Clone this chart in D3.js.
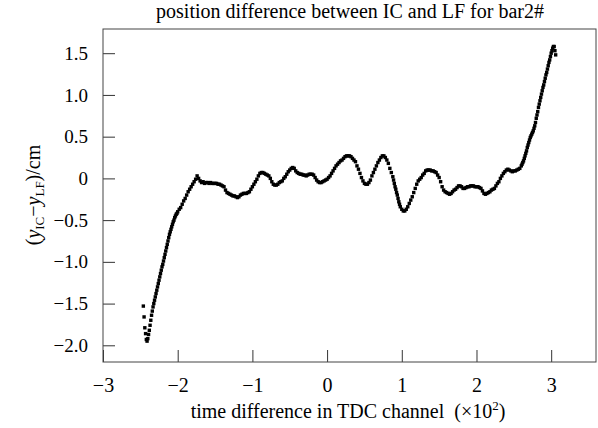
<!DOCTYPE html>
<html><head><meta charset="utf-8">
<script src="https://cdn.jsdelivr.net/npm/d3@7"></script>
<style>
body{margin:0;background:#fff;}
text{font-family:"Liberation Serif","Times New Roman",serif;fill:#000;}
</style></head>
<body><svg id="chart" width="598" height="428"></svg>
<script>
// time difference (×10² TDC channels)
const xValues = [
-2.46,-2.45,-2.44,-2.43,-2.42,-2.41,-2.40,-2.39,-2.38,-2.37,-2.36,-2.35,-2.34,-2.33,-2.32,-2.31,-2.30,-2.29,-2.28,-2.27,
-2.26,-2.25,-2.24,-2.23,-2.22,-2.21,-2.20,-2.19,-2.18,-2.17,-2.16,-2.15,-2.14,-2.13,-2.12,-2.11,-2.10,-2.09,-2.08,-2.07,
-2.06,-2.05,-2.04,-2.03,-2.02,-2.01,-2.00,
-1.98,-1.96,-1.94,-1.92,-1.90,-1.88,-1.86,-1.84,-1.82,-1.80,-1.78,-1.76,-1.74,-1.72,-1.70,-1.68,-1.66,-1.64,-1.62,-1.60,
-1.58,-1.56,-1.54,-1.52,-1.50,-1.48,-1.46,-1.44,-1.42,-1.40,-1.38,-1.36,-1.34,-1.32,-1.30,-1.28,-1.26,-1.24,-1.22,-1.20,
-1.18,-1.16,-1.14,-1.12,-1.10,-1.08,-1.06,-1.04,-1.02,-1.00,-0.98,-0.96,-0.94,-0.92,-0.90,-0.88,-0.86,-0.84,-0.82,-0.80,
-0.78,-0.76,-0.74,-0.72,-0.70,-0.68,-0.66,-0.64,-0.62,-0.60,-0.58,-0.56,-0.54,-0.52,-0.50,-0.48,-0.46,-0.44,-0.42,-0.40,
-0.38,-0.36,-0.34,-0.32,-0.30,-0.28,-0.26,-0.24,-0.22,-0.20,-0.18,-0.16,-0.14,-0.12,-0.10,-0.08,-0.06,-0.04,-0.02,0.00,
0.02,0.04,0.06,0.08,0.10,0.12,0.14,0.16,0.18,0.20,0.22,0.24,0.26,0.28,0.30,0.32,0.34,0.36,0.38,0.40,
0.42,0.44,0.46,0.48,0.50,0.52,0.54,0.56,0.58,0.60,0.62,0.64,0.66,0.68,0.70,0.72,0.74,0.76,0.78,0.80,
0.82,0.84,0.86,0.88,0.89,0.90,0.91,0.92,0.93,0.94,0.95,0.96,0.97,0.98,1.00,1.02,1.04,1.06,1.08,1.10,
1.12,1.14,1.16,1.18,1.20,1.22,1.24,1.26,1.28,1.30,1.32,1.34,1.36,1.38,1.40,1.42,1.44,1.46,1.48,1.50,
1.52,1.54,1.56,1.58,1.60,1.62,1.64,1.66,1.68,1.70,1.72,1.74,1.76,1.78,1.80,1.82,1.84,1.86,1.88,1.90,
1.92,1.94,1.96,1.98,2.00,2.02,2.04,2.06,2.08,2.10,2.12,2.14,2.16,2.18,2.20,2.22,2.24,2.26,2.28,2.30,
2.32,2.34,2.36,2.38,2.40,2.42,2.44,2.46,2.48,2.50,2.52,2.54,2.56,2.58,2.60,
2.61,2.62,2.63,2.64,2.65,2.66,2.67,2.68,2.69,2.70,2.71,2.72,2.73,2.74,2.75,2.76,2.77,2.78,2.79,2.80,
2.81,2.82,2.83,2.84,2.85,2.86,2.87,2.88,2.89,2.90,2.91,2.92,2.93,2.94,2.95,2.96,2.97,2.98,2.99,3.00,
3.01,3.02,3.03,3.04,3.05,3.06
];
// position difference y_IC - y_LF (cm)
const yValues = [
-1.53,-1.66,-1.79,-1.86,-1.93,-1.95,-1.92,-1.87,-1.82,-1.76,-1.70,-1.64,-1.59,-1.54,-1.50,-1.46,-1.42,-1.38,-1.34,-1.30,
-1.26,-1.22,-1.18,-1.14,-1.10,-1.06,-1.03,-0.99,-0.95,-0.91,-0.87,-0.83,-0.79,-0.75,-0.71,-0.67,-0.64,-0.61,-0.58,-0.55,
-0.52,-0.50,-0.47,-0.45,-0.43,-0.42,-0.40,
-0.37,-0.35,-0.31,-0.27,-0.24,-0.20,-0.16,-0.13,-0.10,-0.07,-0.04,-0.01,0.03,0.00,-0.03,-0.05,-0.04,-0.06,-0.05,-0.05,
-0.06,-0.05,-0.06,-0.06,-0.06,-0.06,-0.07,-0.07,-0.08,-0.09,-0.10,-0.14,-0.17,-0.18,-0.19,-0.20,-0.21,-0.21,-0.22,-0.23,
-0.22,-0.20,-0.19,-0.18,-0.18,-0.18,-0.17,-0.16,-0.13,-0.10,-0.07,-0.04,-0.01,0.03,0.06,0.07,0.07,0.06,0.05,0.04,
0.03,0.00,-0.04,-0.07,-0.08,-0.08,-0.07,-0.05,-0.04,-0.03,0.00,0.02,0.05,0.08,0.10,0.12,0.13,0.12,0.09,0.07,
0.06,0.05,0.05,0.04,0.04,0.03,0.04,0.05,0.05,0.05,0.04,0.01,-0.02,-0.04,-0.05,-0.05,-0.04,-0.03,-0.02,-0.01,
0.01,0.03,0.06,0.09,0.12,0.15,0.17,0.19,0.21,0.22,0.24,0.26,0.27,0.27,0.27,0.26,0.24,0.22,0.20,0.15,
0.11,0.06,0.01,-0.03,-0.06,-0.07,-0.07,-0.05,-0.02,0.03,0.07,0.11,0.15,0.19,0.22,0.25,0.27,0.27,0.25,0.22,
0.18,0.12,0.07,0.02,-0.02,-0.06,-0.10,-0.13,-0.17,-0.20,-0.24,-0.28,-0.31,-0.34,-0.37,-0.39,-0.39,-0.37,-0.34,-0.30,
-0.26,-0.22,-0.17,-0.12,-0.07,-0.03,-0.01,0.01,0.04,0.06,0.09,0.10,0.10,0.10,0.09,0.09,0.08,0.07,0.04,0.01,
-0.04,-0.10,-0.14,-0.16,-0.17,-0.18,-0.19,-0.18,-0.16,-0.14,-0.13,-0.11,-0.09,-0.09,-0.10,-0.12,-0.12,-0.11,-0.10,-0.10,
-0.09,-0.09,-0.09,-0.10,-0.10,-0.10,-0.11,-0.12,-0.15,-0.18,-0.19,-0.18,-0.17,-0.16,-0.14,-0.13,-0.12,-0.09,-0.06,-0.04,
0.00,0.03,0.06,0.08,0.10,0.11,0.10,0.09,0.08,0.09,0.09,0.10,0.11,0.12,0.15,
0.17,0.19,0.21,0.24,0.27,0.30,0.33,0.37,0.40,0.43,0.46,0.49,0.51,0.53,0.55,0.57,0.60,0.63,0.67,0.72,
0.76,0.80,0.85,0.89,0.93,0.97,1.01,1.05,1.09,1.12,1.16,1.20,1.24,1.27,1.31,1.35,1.39,1.42,1.46,1.50,
1.53,1.56,1.58,1.58,1.53,1.48
];
const xTicks = [-3,-2,-1,0,1,2,3];
const xTickLabels = ["\u22123","\u22122","\u22121","0","1","2","3"];
const yTicks = [-2.0,-1.5,-1.0,-0.5,0,0.5,1.0,1.5];
const yTickLabels = ["\u22122.0","\u22121.5","\u22121.0","\u22120.5","0","0.5","1.0","1.5"];

const svg = d3.select("#chart");
const L = 103, R = 596, T = 29, B = 362;
const x = d3.scaleLinear().domain([-3, 3.6]).range([L, R]);
const y = d3.scaleLinear().domain([-2.2, 1.79]).range([B, T]);

// x axis
const xa = svg.append("g").attr("transform", `translate(0,${B})`)
  .call(d3.axisBottom(x).tickValues(xTicks).tickSizeInner(-12).tickSizeOuter(0).tickPadding(16)
    .tickFormat((d,i) => xTickLabels[i]));
xa.select(".domain").remove();
xa.selectAll("line").attr("stroke", "#333");
xa.selectAll("text").attr("font-size", 20).style("font-family", "Liberation Serif");

// y axis
const ya = svg.append("g").attr("transform", `translate(${L},0)`)
  .call(d3.axisLeft(y).tickValues(yTicks).tickSizeInner(-12).tickSizeOuter(0).tickPadding(15)
    .tickFormat((d,i) => yTickLabels[i]));
ya.select(".domain").remove();
ya.selectAll("line").attr("stroke", "#333");
ya.selectAll("text").attr("font-size", 19).style("font-family", "Liberation Serif");

// frame
svg.append("rect").attr("x", L).attr("y", T).attr("width", R - L).attr("height", B - T)
  .attr("fill", "none").attr("stroke", "#444").attr("stroke-width", 1);

// points
svg.append("g").selectAll("rect").data(xValues.map((v,i) => [v, yValues[i]]))
  .join("rect")
  .attr("x", d => x(d[0]) - 1.7).attr("y", d => y(d[1]) - 1.7)
  .attr("width", 3.4).attr("height", 3.4).attr("fill", "#000");

// title
svg.append("text").attr("x", 350).attr("y", 18).attr("text-anchor", "middle")
  .attr("font-size", 20).text("position difference between IC and LF for bar2#");

// x title
const xt = svg.append("text").attr("x", 348).attr("y", 418).attr("text-anchor", "middle").attr("font-size", 20);
xt.append("tspan").text("time difference in TDC channel\u00a0\u00a0(\u00d710");
xt.append("tspan").attr("dy", -8).attr("font-size", 13).text("2");
xt.append("tspan").attr("dy", 8).text(")");

// y title
const yt = svg.append("text").attr("transform", "translate(40,195) rotate(-90)")
  .attr("text-anchor", "middle").attr("font-size", 20);
yt.append("tspan").text("(");
yt.append("tspan").attr("font-style", "italic").text("y");
yt.append("tspan").attr("font-size", 13).attr("dy", 4).text("IC");
yt.append("tspan").attr("dy", -4).text("\u2212");
yt.append("tspan").attr("font-style", "italic").text("y");
yt.append("tspan").attr("font-size", 13).attr("dy", 4).text("LF");
yt.append("tspan").attr("dy", -4).text(")/cm");
</script></body></html>
